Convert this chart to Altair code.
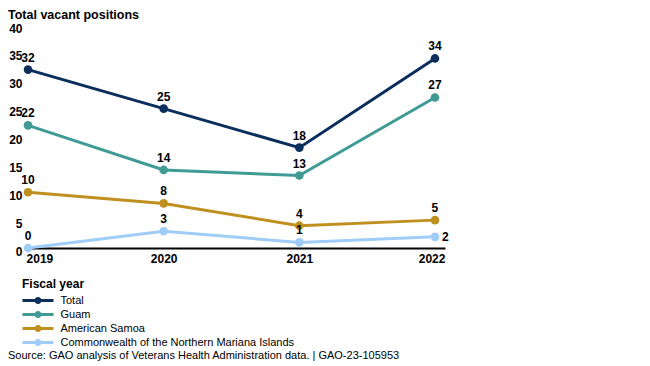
import altair as alt
import pandas as pd

years = [2019, 2020, 2021, 2022]
series_names = ["Total", "Guam", "American Samoa",
                "Commonwealth of the Northern Mariana Islands"]
total = [32, 25, 18, 34]
guam = [22, 14, 13, 27]
samoa = [10, 8, 4, 5]
cnmi = [0, 3, 1, 2]
colors = ["#0b2e5c", "#3f9b93", "#bf9020", "#9fcdf8"]
y_ticks = [0, 5, 10, 15, 20, 25, 30, 35, 40]

rows = []
for name, vals in zip(series_names, [total, guam, samoa, cnmi]):
    for yr, v in zip(years, vals):
        rows.append({"year": yr, "series": name, "value": v})
df = pd.DataFrame(rows)

FONT = "Liberation Sans"

x = alt.X("year:Q",
          scale=alt.Scale(domain=[2018.985, 2022.074], nice=False, zero=False),
          axis=alt.Axis(values=years, format="d", title=None, ticks=False, grid=False,
                        domainColor="black", domainWidth=2, labelFontWeight="bold",
                        labelFontSize=12, labelColor="black", labelPadding=5,
                        labelFlush=False, labelFont=FONT,
                        labelAlign={"expr": "datum.value == 2019 ? 'left' : (datum.value == 2022 ? 'right' : 'center')"},
                        labelOffset={"expr": "datum.value == 2019 ? -2 : (datum.value == 2022 ? 10 : 0)"}))
y = alt.Y("value:Q",
          scale=alt.Scale(domain=[0, 40], nice=False),
          axis=alt.Axis(values=y_ticks, title=None, domain=False, ticks=False, grid=False,
                        labelFontWeight="bold", labelFontSize=12, labelColor="black",
                        labelPadding=4, labelBaseline="middle", labelOffset=3, labelFont=FONT))

sym_path = ("M-3.1,-0.3 L3.1,-0.3 L3.1,0.3 L-3.1,0.3 Z "
            "M-0.7,0 A0.7,0.7 0 1,1 0.7,0 A0.7,0.7 0 1,1 -0.7,0 Z")

color_leg = alt.Color(
    "series:N", sort=series_names,
    scale=alt.Scale(domain=series_names, range=colors),
    legend=alt.Legend(title="Fiscal year", orient="none", legendX=-4, legendY=254,
                      direction="vertical", titleFont=FONT, titleFontSize=12,
                      titleFontWeight="bold", titleColor="black", titlePadding=4,
                      labelFont=FONT, labelFontSize=11, labelColor="black", labelLimit=400,
                      symbolType=sym_path, symbolSize=100, symbolStrokeWidth=0,
                      symbolOffset=10.5, labelOffset=17, rowPadding=2,
                      symbolOpacity=1))

base = alt.Chart(df)
lines = base.mark_line(strokeWidth=3).encode(x=x, y=y, color=color_leg)
points = base.mark_point(filled=True, size=75, opacity=1).encode(x=x, y=y, color=color_leg)

is_special = (alt.datum.series == series_names[3]) & (alt.datum.year == 2022)
labels = base.mark_text(dy=-12, font=FONT, fontSize=12, fontWeight="bold",
                        color="black").encode(x=x, y=y, text="value:Q").transform_filter(~is_special)
labels2 = base.mark_text(dx=7, align="left", font=FONT, fontSize=12, fontWeight="bold",
                         color="black").encode(x=x, y=y, text="value:Q").transform_filter(is_special)

source = alt.Chart(pd.DataFrame({"t": ["Source: GAO analysis of Veterans Health Administration data. | GAO-23-105953"]})).mark_text(
    align="left", baseline="middle", font=FONT, fontSize=11, color="black"
).encode(x=alt.value(-18), y=alt.value(331), text="t:N")

chart = alt.layer(lines, points, labels, labels2, source).properties(
    width=419, height=223,
    padding={"left": 0, "top": 0, "right": 0, "bottom": 0},
    title=alt.TitleParams("Total vacant positions", anchor="start", frame="bounds",
                          font=FONT, fontSize=12.5, fontWeight="bold", color="black", offset=1),
).configure_view(stroke=None)

chart.save("out.html", embed_options={"renderer": "svg", "actions": False})
